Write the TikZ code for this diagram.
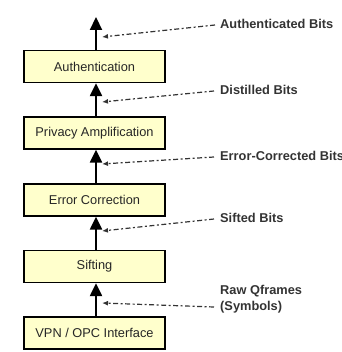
\documentclass[tikz,border=0pt]{standalone}
\usepackage{fontspec}
\setmainfont{Liberation Sans}
\usetikzlibrary{arrows.meta}
\definecolor{boxfill}{RGB}{255,255,204}
\begin{document}
\begin{tikzpicture}[x=1pt,y=-1pt,
  stage/.style={draw=black,line width=1.3pt,fill=boxfill,minimum width=141pt,minimum height=32pt,inner sep=0pt,font=\fontsize{12.8}{15}\selectfont,text=black!85},
  flow/.style={line width=2.2pt,-{Triangle[width=12pt,length=13pt]}},
  lbl/.style={anchor=west,inner sep=0pt,font=\fontsize{12.8}{16}\selectfont\bfseries,text=black!80,align=left},
  leader/.style={draw=black!80,line width=1.2pt,dash pattern=on 5pt off 2.5pt on 2pt off 2.5pt,-{Latex[length=6pt,width=5pt]}}
]
\useasboundingbox (0,0) rectangle (341,352);
\node[stage] (vpn) at (94.5,333) {VPN / OPC Interface};
\node[stage] (sift) at (94.5,266.5) {Sifting};
\node[stage] (ec) at (94.5,200) {Error Correction};
\node[stage] (pa) at (94.5,133) {Privacy Amplification};
\node[stage] (auth) at (94.5,66.5) {Authentication};
\coordinate (top) at (96,17);
\draw[flow] (vpn.north -| top) -- (sift.south -| top);
\draw[flow] (sift.north -| top) -- (ec.south -| top);
\draw[flow] (ec.north -| top) -- (pa.south -| top);
\draw[flow] (pa.north -| top) -- (auth.south -| top);
\draw[flow] (auth.north -| top) -- (top);
\node[lbl] (l1) at (220,24) {Authenticated Bits};
\node[lbl] (l2) at (220,90) {Distilled Bits};
\node[lbl] (l3) at (220,156) {Error-Corrected Bits};
\node[lbl] (l4) at (220,218) {Sifted Bits};
\node[lbl] (l5) at (220,299) {Raw Qframes\\(Symbols)};
\coordinate (c1) at (102,37);
\coordinate (c2) at (102,102);
\coordinate (c3) at (102,164);
\coordinate (c4) at (102,231);
\coordinate (c5) at (102,303);
\draw[leader] ([xshift=-5pt,yshift=-1pt]l1.west) -- (c1);
\draw[leader] ([xshift=-6pt,yshift=-1pt]l2.west) -- (c2);
\draw[leader] ([xshift=-6pt,yshift=-1pt]l3.west) -- (c3);
\draw[leader] ([xshift=-6pt,yshift=-1pt]l4.west) -- (c4);
\draw[leader] ([xshift=-6pt,yshift=-8pt]l5.west) -- (c5);
\end{tikzpicture}
\end{document}
